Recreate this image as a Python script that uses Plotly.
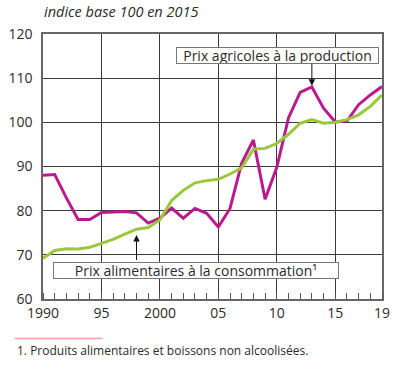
import plotly.graph_objects as go

years = list(range(1990, 2020))
prix_agricoles = [88.0, 88.2, 82.9, 78.0, 78.0, 79.6, 79.7, 79.8, 79.5, 77.2,
                  78.3, 80.6, 78.3, 80.5, 79.4, 76.3, 80.5, 90.8, 96.0, 82.6,
                  89.8, 101.0, 106.8, 108.0, 103.2, 100.1, 100.3, 104.0, 106.2, 108.1]
prix_conso = [69.2, 71.0, 71.4, 71.3, 71.7, 72.6, 73.5, 74.7, 75.8, 76.2,
              77.9, 82.3, 84.6, 86.3, 86.8, 87.1, 88.3, 89.7, 93.9, 94.1,
              95.2, 97.3, 99.8, 100.6, 99.8, 100.0, 100.6, 101.7, 103.6, 106.2]
x_tickvals = [1990, 1995, 2000, 2005, 2010, 2015, 2019]
x_ticktext = ["1990", "95", "2000", "05", "10", "15", "19"]
y_tickvals = [60, 70, 80, 90, 100, 110, 120]

label_agri = "Prix agricoles à la production"
label_conso = "Prix alimentaires à la consommation¹"
title_text = "indice base 100 en 2015"
footnote = "1. Produits alimentaires et boissons non alcoolisées."

FONT = "Open Sans"
TXT = "#2b2b2b"

fig = go.Figure()
fig.add_trace(go.Scatter(x=years, y=prix_agricoles, mode="lines",
                         line=dict(color="#bb1a8e", width=3), name=label_agri))
fig.add_trace(go.Scatter(x=years, y=prix_conso, mode="lines",
                         line=dict(color="#99c93a", width=3), name=label_conso))

i13 = years.index(2013)
i98 = years.index(1998)

fig.update_layout(
    width=404, height=379,
    margin=dict(l=43, r=22, t=34, b=80, autoexpand=False),
    paper_bgcolor="white", plot_bgcolor="white",
    showlegend=False,
    font=dict(family=FONT, color=TXT, size=14),
    xaxis=dict(range=[1990, 2019], tickvals=x_tickvals, ticktext=x_ticktext,
               showgrid=True, gridcolor="#3a3a3a", gridwidth=1,
               showline=True, linecolor="#666666", linewidth=1.5, mirror=True,
               ticks="", zeroline=False, automargin=False,
               minor=dict(dtick=1, tick0=1990, ticks="inside", ticklen=6,
                          tickcolor="#555555", tickwidth=1, showgrid=False),
               tickfont=dict(size=14, family=FONT, color=TXT)),
    yaxis=dict(range=[60, 120], tickvals=y_tickvals,
               showgrid=True, gridcolor="#3a3a3a", gridwidth=1,
               showline=True, linecolor="#666666", linewidth=1.5, mirror=True,
               ticks="", zeroline=False, ticklabelstandoff=6, automargin=False,
               tickfont=dict(size=14, family=FONT, color=TXT)),
)

annotations = [
    dict(text=title_text, xref="paper", yref="paper", x=-0.004, y=1.084,
         xanchor="left", yanchor="middle", showarrow=False,
         font=dict(family=FONT, size=14.5, color=TXT, style="italic")),
    dict(text=label_agri, xref="paper", yref="paper", x=0.692, y=0.92,
         xanchor="center", yanchor="middle", showarrow=False,
         width=201, height=15,
         bgcolor="white", bordercolor="#777777", borderwidth=1, borderpad=0,
         font=dict(family=FONT, size=14, color=TXT)),
    dict(text=label_conso, xref="paper", yref="paper", x=0.45, y=0.1065,
         xanchor="center", yanchor="middle", showarrow=False,
         width=284, height=15,
         bgcolor="white", bordercolor="#777777", borderwidth=1, borderpad=0,
         font=dict(family=FONT, size=14, color=TXT)),
    dict(text="", x=years[i13], y=prix_agricoles[i13] + 0.3, xref="x", yref="y",
         ax=years[i13], ay=113.6, axref="x", ayref="y",
         showarrow=True, arrowhead=2, arrowsize=1.3, arrowwidth=1,
         arrowcolor="#111111", standoff=0),
    dict(text="", x=years[i98], y=prix_conso[i98] - 1.3, xref="x", yref="y",
         ax=years[i98], ay=68.5, axref="x", ayref="y",
         showarrow=True, arrowhead=2, arrowsize=1.3, arrowwidth=1,
         arrowcolor="#111111", standoff=0),
    dict(text=footnote, xref="paper", yref="paper", x=-0.0836, y=-0.193,
         xanchor="left", yanchor="middle", showarrow=False,
         font=dict(family=FONT, size=12, color=TXT)),
]
fig.update_layout(annotations=annotations)

fig.add_shape(type="line", xref="paper", yref="paper",
              x0=-0.0836, x1=0.176, y0=-0.1486, y1=-0.1486,
              line=dict(color="#f4a0a8", width=1.5))

fig.write_html("out.html",
               config={"displayModeBar": False},
               post_script="document.body.style.margin='0px';document.body.style.overflow='hidden';")
